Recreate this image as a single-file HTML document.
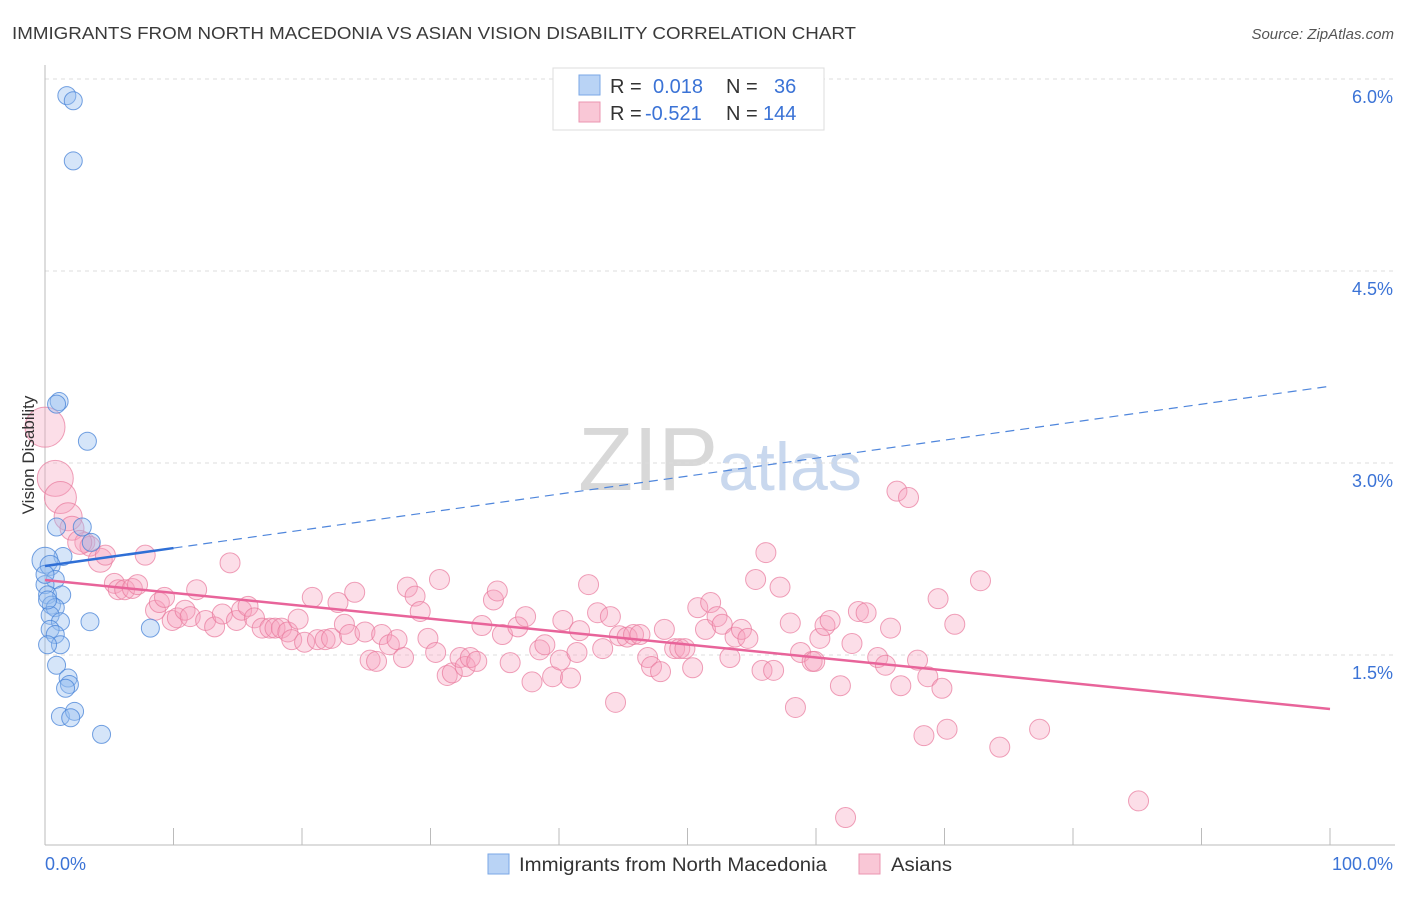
<!DOCTYPE html>
<html><head><meta charset="utf-8"><style>
body{margin:0;background:#fff;font-family:"Liberation Sans",sans-serif}
svg text{font-family:"Liberation Sans",sans-serif}
</style></head><body>
<svg id="chart" width="1406" height="892" xmlns="http://www.w3.org/2000/svg">
<text x="12" y="39" font-size="17.5" fill="#3a3a3a" textLength="844" lengthAdjust="spacingAndGlyphs">IMMIGRANTS FROM NORTH MACEDONIA VS ASIAN VISION DISABILITY CORRELATION CHART</text>
<text x="1394" y="39" font-size="15" fill="#555" text-anchor="end" font-style="italic">Source: ZipAtlas.com</text>
<text x="720" y="490" font-size="90" text-anchor="middle" fill="#ddd" font-family="Liberation Serif"><tspan fill="#d8d8d8">ZIP</tspan><tspan fill="#c9d8ee" font-family="Liberation Sans" font-size="68">atlas</tspan></text>
<g id="grid"></g>
<g id="axes"></g>
<g id="pts"></g>
<g id="trends"></g>
<text transform="translate(34,455) rotate(-90)" font-size="17" fill="#333" text-anchor="middle">Vision Disability</text>
<g>
<rect x="553" y="68" width="271" height="62" fill="#fff" stroke="#ddd"/>
<rect x="579" y="75" width="21" height="20" fill="#b9d3f5" stroke="#7aa7e6"/>
<rect x="579" y="102" width="21" height="20" fill="#f9c7d6" stroke="#eb96b0"/>
<text x="610" y="93" font-size="20" fill="#333">R = </text><text x="653" y="93" font-size="20" fill="#3b73d6">0.018</text>
<text x="726" y="93" font-size="20" fill="#333">N = </text><text x="774" y="93" font-size="20" fill="#3b73d6">36</text>
<text x="610" y="120" font-size="20" fill="#333">R = </text><text x="645" y="120" font-size="20" fill="#3b73d6">-0.521</text>
<text x="726" y="120" font-size="20" fill="#333">N = </text><text x="763" y="120" font-size="20" fill="#3b73d6">144</text>
</g>
<g>
<rect x="488" y="854" width="21" height="20" fill="#b9d3f5" stroke="#7aa7e6"/>
<text x="519" y="871" font-size="19" fill="#333" textLength="308" lengthAdjust="spacingAndGlyphs">Immigrants from North Macedonia</text>
<rect x="859" y="854" width="21" height="20" fill="#f9c7d6" stroke="#eb96b0"/>
<text x="891" y="871" font-size="19" fill="#333" textLength="61" lengthAdjust="spacingAndGlyphs">Asians</text>
</g>
</svg>
<script>
const yTicks=[1.5,3.0,4.5,6.0];
const yTickLabels=["1.5%","3.0%","4.5%","6.0%"];
const xTickLabels=["0.0%","100.0%"];
const blueX=[1.7,2.2,2.2,1.1,0.9,3.3,0.9,2.9,3.6,1.4,0,0.4,0.8,0,0.2,1.3,0.5,0.8,0.4,1.2,3.5,0.4,0.8,1.2,0.2,0.9,1.8,1.9,1.6,1.2,2.3,2.0,4.4,8.2,0,0.2];
const blueY=[5.87,5.83,5.36,3.48,3.46,3.17,2.50,2.50,2.38,2.27,2.24,2.20,2.09,2.05,1.97,1.97,1.89,1.87,1.81,1.76,1.76,1.70,1.66,1.58,1.58,1.42,1.32,1.27,1.24,1.02,1.06,1.01,0.88,1.71,2.13,1.93];
const pinkX=[0,0.8,1.2,1.8,2.1,3.1,3.5,2.7,4.3,4.7,7.8,14.4,5.4,5.7,6.2,6.8,7.2,8.6,8.9,9.3,9.9,10.3,10.9,11.3,11.8,12.5,13.2,13.8,14.9,15.3,15.8,16.3,16.9,17.5,17.9,18.4,18.9,19.2,19.7,20.2,20.8,21.2,21.8,22.3,22.8,23.3,23.7,24.1,24.9,25.3,25.8,26.2,26.8,27.4,27.9,28.2,28.8,29.2,29.8,30.4,30.7,31.3,31.7,32.3,32.7,33.1,33.6,34.0,34.9,35.2,35.6,36.2,36.8,37.4,37.9,38.5,38.9,39.5,40.1,40.3,40.9,41.4,41.6,42.3,43.0,43.4,44.0,44.4,44.7,45.3,45.8,46.3,46.9,47.2,47.9,48.2,49.0,49.4,49.8,50.4,50.8,51.4,51.8,52.3,52.7,53.3,53.7,54.2,54.7,55.3,55.8,56.1,56.7,57.2,58.0,58.4,58.8,59.7,59.9,60.3,60.7,61.1,61.9,62.3,62.8,63.3,63.9,64.8,65.4,65.8,66.3,66.6,67.2,67.9,68.4,68.7,69.5,69.8,70.2,70.8,72.8,74.3,77.4,85.1];
const pinkY=[3.28,2.88,2.73,2.58,2.49,2.38,2.35,2.38,2.24,2.28,2.28,2.22,2.06,2.01,2.01,2.02,2.05,1.85,1.91,1.95,1.77,1.79,1.85,1.80,2.01,1.77,1.72,1.82,1.77,1.85,1.88,1.79,1.71,1.71,1.71,1.71,1.68,1.62,1.78,1.60,1.95,1.62,1.62,1.63,1.91,1.74,1.66,1.99,1.68,1.46,1.45,1.66,1.58,1.62,1.48,2.03,1.96,1.84,1.63,1.52,2.09,1.34,1.36,1.48,1.41,1.48,1.45,1.73,1.93,2.00,1.66,1.44,1.72,1.80,1.29,1.54,1.58,1.33,1.46,1.77,1.32,1.52,1.69,2.05,1.83,1.55,1.80,1.13,1.65,1.64,1.66,1.66,1.48,1.41,1.37,1.70,1.55,1.55,1.55,1.40,1.87,1.70,1.91,1.80,1.74,1.48,1.64,1.70,1.63,2.09,1.38,2.30,1.38,2.03,1.75,1.09,1.52,1.45,1.45,1.63,1.73,1.77,1.26,0.23,1.59,1.84,1.83,1.48,1.42,1.71,2.78,1.26,2.73,1.46,0.87,1.33,1.94,1.24,0.92,1.74,2.08,0.78,0.92,0.36];
const blueR=[9,9,9,9,9,9,9,9,9,9,13,10,9,9,9,9,9,9,9,9,9,9,9,9,9,9,9,9,9,9,9,9,9,9,9,9];
const pinkBigR=[20,18,16,14,12,10,10,12,12];
const blueTrend=[2.195,3.60];
const pinkTrend=[2.086,1.078];
const X=v=>45+v*12.85, Y=v=>847-v*128;
const NS="http://www.w3.org/2000/svg";
function mk(p,t,a){const e=document.createElementNS(NS,t);for(const k in a)e.setAttribute(k,a[k]);p.appendChild(e);return e;}
const grid=document.getElementById('grid'),axes=document.getElementById('axes'),pts=document.getElementById('pts'),tr=document.getElementById('trends');
yTicks.forEach((v,i)=>{
 const l=mk(grid,'line',{x1:45,x2:1395,y1:Y(v),y2:Y(v),stroke:'#ddd','stroke-dasharray':'4,4'});
 
 
 const t=mk(axes,'text',{x:1393,y:Y(v)+24,'font-size':18,fill:'#3b73d6','text-anchor':'end'});
 t.textContent=yTickLabels[i];
 
 
});
mk(axes,'line',{x1:45,x2:45,y1:65,y2:845,stroke:'#bbb'});
mk(axes,'line',{x1:45,x2:1395,y1:845,y2:845,stroke:'#bbb'});
for(let i=0;i<=10;i++){const tk=mk(axes,'line',{x1:X(i*10),x2:X(i*10),y1:828,y2:845,stroke:'#bbb'});
 
 }
[[0,'start',45],[100,'end',1393]].forEach((d,i)=>{const t=mk(axes,'text',{x:d[2],y:870,'font-size':18,fill:'#3b73d6','text-anchor':d[1]});t.textContent=xTickLabels[i];
 
 });
pinkX.forEach((x,i)=>{const c=mk(pts,'circle',{cx:X(x),cy:Y(pinkY[i]),r:pinkBigR[i]||10,fill:'rgba(245,160,190,0.35)',stroke:'rgba(232,120,155,0.7)','stroke-width':1});
 
 });
blueX.forEach((x,i)=>{const c=mk(pts,'circle',{cx:X(x),cy:Y(blueY[i]),r:blueR[i],fill:'rgba(150,190,240,0.4)',stroke:'rgba(70,130,215,0.75)','stroke-width':1});
 
 });
const by=x=>blueTrend[0]+(blueTrend[1]-blueTrend[0])*x/100;
const b1=mk(tr,'line',{x1:X(0),y1:Y(by(0)),x2:X(10),y2:Y(by(10)),stroke:'#2f6fd6','stroke-width':2.5});


const b2=mk(tr,'line',{x1:X(10),y1:Y(by(10)),x2:X(100),y2:Y(by(100)),stroke:'#4f86dc','stroke-width':1.2,'stroke-dasharray':'9,6'});


const p=mk(tr,'line',{x1:X(0),y1:Y(pinkTrend[0]),x2:X(100),y2:Y(pinkTrend[1]),stroke:'#e8649a','stroke-width':2.5});


</script>
</body></html>
